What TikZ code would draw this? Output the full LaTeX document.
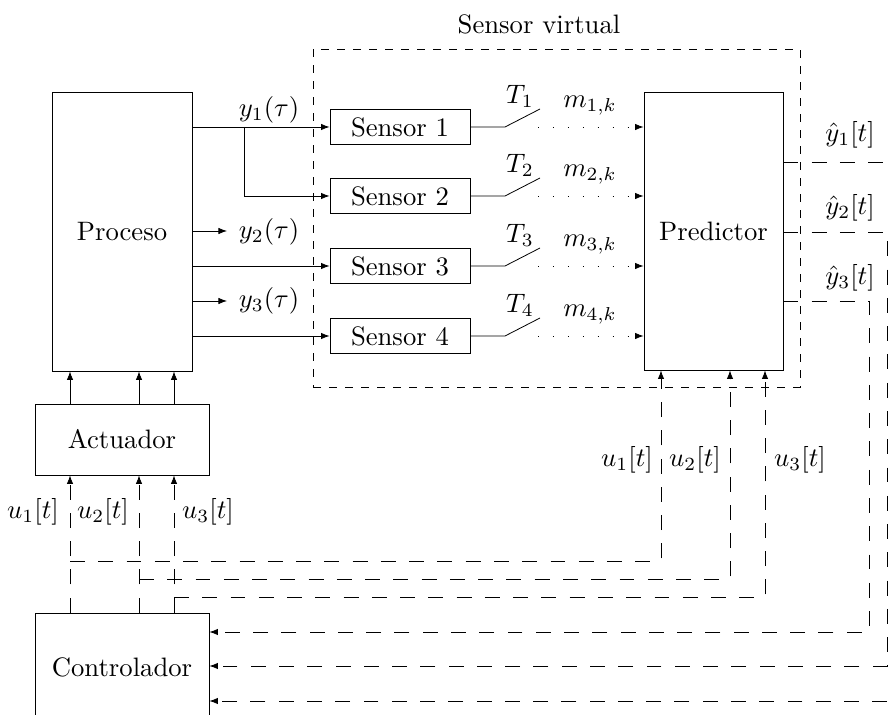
\documentclass[tikz,border=0pt]{standalone}
\usetikzlibrary{calc,arrows.meta}
\begin{document}
\begin{tikzpicture}[x=0.375pt,y=-0.375pt, line width=0.3pt,
  tip/.tip={Latex[length=3.2pt,width=2.4pt]},
  blk/.style={draw, inner sep=0pt, align=center},
  sig/.style={-tip},
  fb/.style={dash pattern=on 5.6pt off 5pt},
  smp/.style={dash pattern=on 0.4pt off 5.2pt, -tip}]
\clip (0,0) rectangle (894,715);

% blocks
\node[blk, minimum width=52.5pt, minimum height=104.6pt] (proc) at (122,231.5) {Proceso};
\foreach \i/\r in {1/127,2/196,3/266,4/336}
  \node[blk, minimum width=52.5pt, minimum height=13.1pt] (s\i) at (400,\r) {Sensor \i};
\node[blk, minimum width=52.1pt, minimum height=104.25pt] (pred) at (713.5,231) {Predictor};
\node[blk, minimum width=65.25pt, minimum height=26.6pt] (act) at (122,439.5) {Actuador};
\node[blk, minimum width=65.25pt, minimum height=40.5pt] (ctrl) at (122,667) {Controlador};
\node[draw, dashed, minimum width=182.6pt, minimum height=126.75pt] (vs) at (556.5,218) {};
\node (vsl) at (539,24) {Sensor virtual};

% process outputs
\coordinate (br) at (244,127);
\coordinate (y2e) at (227,231);
\coordinate (y3e) at (227,301);
\draw[sig] (proc.east |- s1) -- (s1.west);
\draw[sig] (br) |- (s2.west);
\draw[sig] (proc.east |- y2e) -- (y2e);
\draw[sig] (proc.east |- s3) -- (s3.west);
\draw[sig] (proc.east |- y3e) -- (y3e);
\draw[sig] (proc.east |- s4) -- (s4.west);
\node (ly1) at (269,110) {$y_1(\tau)$};
\node (ly2) at (269,232) {$y_2(\tau)$};
\node (ly3) at (269,301) {$y_3(\tau)$};

% sampling switches and transmitted measurements
\foreach \i/\r in {1/127,2/196,3/266,4/336} {
  \coordinate (p\i) at (505,\r);
  \coordinate (q\i) at (540,\r-18);
  \coordinate (d\i) at (538,\r);
  \draw (s\i.east) -- (p\i) -- (q\i);
  \draw[smp] (d\i) -- (pred.west |- d\i);
  \node (lt\i) at (520,\r-31) {$T_\i$};
  \node (lm\i) at (590,\r-21) {$m_{\i,k}$};
}

% predicted outputs fed back to the controller
\coordinate (o1) at (905,162);
\coordinate (o2) at (887,232);
\coordinate (o3) at (869,301);
\coordinate (k1) at (905,701);
\coordinate (k2) at (887,666);
\coordinate (k3) at (869,632);
\foreach \i in {1,2,3}
  \draw[fb,-tip] (pred.east |- o\i) -- (o\i) -- (k\i) -- (ctrl.east |- k\i);
\node (lh1) at (850,135) {$\hat{y}_1[t]$};
\node (lh2) at (850,208) {$\hat{y}_2[t]$};
\node (lh3) at (850,278) {$\hat{y}_3[t]$};

% control signals
\foreach \i/\x/\b/\px in {1/70/561/661, 2/139/579/730, 3/174/597/765} {
  \coordinate (ax\i) at (\x,\b);
  \coordinate (bx\i) at (\px,\b);
  \draw[fb,-tip] (ctrl.north -| ax\i) -- (act.south -| ax\i);
  \draw[sig] (act.north -| ax\i) -- (proc.south -| ax\i);
  \draw[fb,-tip] (ax\i) -- (bx\i) -- (pred.south -| bx\i);
}
\node (lu1) at (33,512) {$u_1[t]$};
\node (lu2) at (103,512) {$u_2[t]$};
\node (lu3) at (208,512) {$u_3[t]$};
\node (lv1) at (627,460) {$u_1[t]$};
\node (lv2) at (695,460) {$u_2[t]$};
\node (lv3) at (800,460) {$u_3[t]$};
\end{tikzpicture}
\end{document}
